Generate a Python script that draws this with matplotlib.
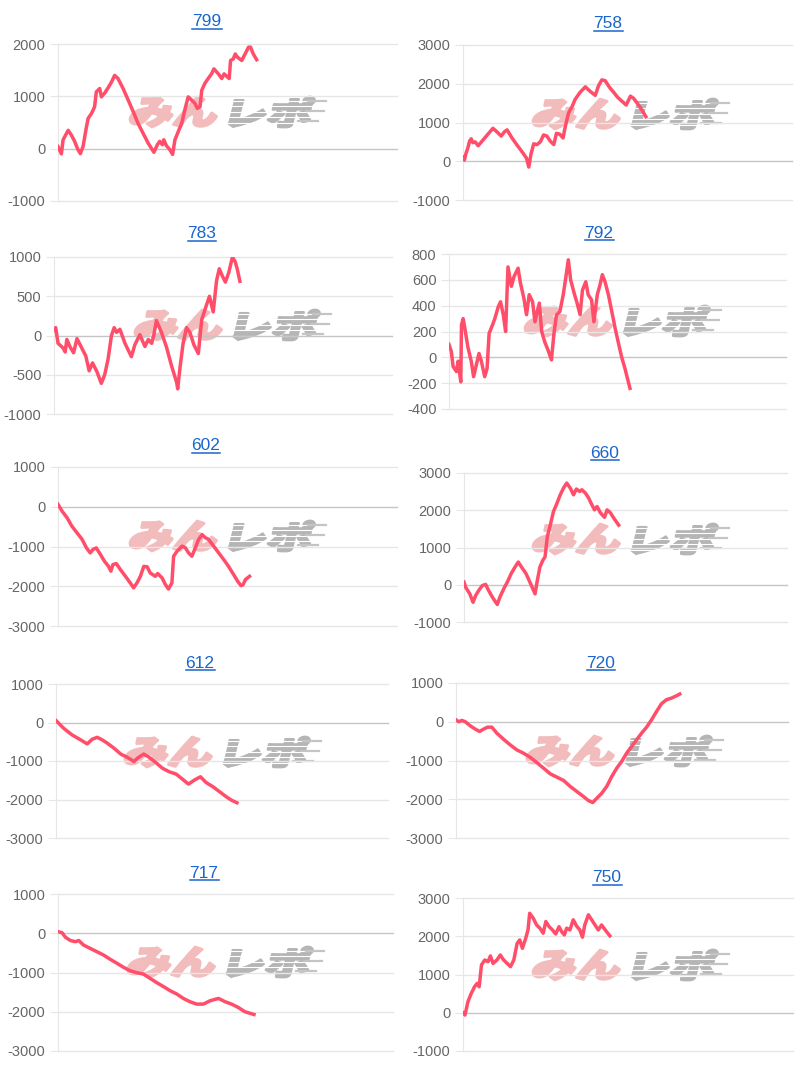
import matplotlib
matplotlib.use('Agg')
import matplotlib.pyplot as plt
from matplotlib.textpath import TextPath
from matplotlib.patches import PathPatch
from matplotlib.font_manager import FontProperties
from matplotlib.transforms import Affine2D
from matplotlib.lines import Line2D

plt.rcParams['font.family'] = ['Liberation Sans', 'DejaVu Sans']

# machine numbers (chart titles)
titles = ['799', '758', '783', '792', '602', '660', '612', '720', '717', '750']

# x = position along the game axis (% of axis), y = medal difference
x_799 = [0, 1.0, 1.5, 3.0, 3.9, 4.9, 5.9, 6.6, 7.4, 8.4, 8.9, 9.9, 10.8, 11.3, 12.3, 12.8,
         13.8, 14.8, 15.8, 16.7, 17.7, 19.2, 20.7, 22.2, 23.6, 25.1, 26.6, 28.3, 29.3, 30.0,
         30.8, 31.2, 32.0, 33.0, 33.8, 34.5, 35.5, 36.5, 37.4, 38.4, 39.4, 40.4, 41.1, 41.9,
         42.4, 43.3, 44.3, 45.3, 46.0, 47.3, 48.3, 49.0, 49.8, 50.5, 50.9, 51.7, 52.3, 52.9,
         54.2, 55.2, 56.2, 56.8, 57.6, 58.6]
y_799 = [40, -100, 170, 350, 265, 140, -20, -95, 45, 420, 580, 675, 800, 1085, 1150, 990,
         1065, 1165, 1275, 1400, 1340, 1150, 930, 705, 485, 295, 105, -70, 75, 140,
         75, 170, 55, -20, -110, 170, 330, 485, 740, 990, 930, 865, 770, 800,
         1115, 1245, 1340, 1430, 1525, 1430, 1340, 1430, 1380, 1340, 1685, 1715, 1810, 1750,
         1685, 1810, 1940, 1940, 1810, 1700]

x_758 = [0, 0.4, 0.9, 1.5, 2.0, 2.5, 3.0, 3.7, 4.6, 5.8, 6.8, 7.8, 9.1, 10.3, 11.6, 12.6,
         13.4, 14.9, 16.4, 17.9, 19.3, 20.0, 20.7, 21.5, 22.5, 23.5, 24.5, 25.5, 26.5, 27.6,
         28.4, 29.4, 30.4, 31.1, 32.1, 33.1, 34.1, 35.6, 37.2, 38.7, 40.2, 41.2, 42.2, 43.2,
         44.6, 45.8, 47.0, 48.3, 49.6, 50.9, 51.9, 53.1, 54.4, 55.6]
y_758 = [100, 30, 200, 350, 520, 580, 480, 500, 400, 520, 620, 720, 850, 760, 650, 760,
         810, 600, 420, 250, 80, -150, 200, 450, 430, 500, 680, 650, 520, 430,
         720, 700, 600, 900, 1250, 1400, 1600, 1780, 1920, 1800, 1700, 1950, 2100, 2080,
         1900, 1780, 1650, 1550, 1450, 1680, 1620, 1480, 1320, 1150]

x_783 = [0, 0.5, 1.2, 2.7, 3.3, 3.8, 4.8, 5.8, 6.8, 8.1, 9.4, 10.4, 11.4, 12.7, 14.0, 15.0,
         16.0, 17.0, 17.8, 18.5, 19.5, 21.0, 22.9, 23.9, 25.4, 26.9, 27.9, 28.9, 29.5, 30.3,
         31.8, 33.3, 34.8, 36.3, 36.6, 37.3, 38.2, 39.2, 40.2, 41.4, 42.7, 43.7, 45.2, 46.0,
         47.1, 48.1, 48.9, 49.9, 50.7, 51.7, 52.8, 53.6, 54.2, 55.0]
y_783 = [70, 100, -100, -160, -210, -50, -150, -220, -40, -150, -260, -450, -350, -460, -610, -500,
         -300, 0, 100, 40, 80, -100, -270, -120, 10, -140, -50, -100, 0, 190,
         40, -150, -390, -600, -680, -400, -100, 100, 40, -120, -230, 200, 400, 500,
         300, 700, 850, 750, 680, 800, 1000, 940, 850, 690]

x_792 = [0, 0.7, 1.2, 2.2, 2.7, 3.5, 3.7, 4.2, 4.7, 5.6, 6.6, 7.3, 8.1, 8.9, 9.6, 10.6,
         11.3, 11.9, 12.9, 13.6, 14.6, 15.3, 16.1, 16.8, 17.5, 18.5, 19.3, 20.5, 21.2, 22.2,
         23.0, 23.8, 24.8, 25.5, 26.8, 27.5, 28.4, 29.4, 30.4, 31.1, 31.9, 32.9, 33.9, 34.7,
         35.4, 36.1, 37.1, 37.9, 38.9, 39.6, 40.6, 41.3, 42.3, 43.0, 44.0, 44.8, 45.5, 46.3,
         47.3, 48.3, 49.3, 50.2, 51.2, 52.2, 53.7]
y_792 = [100, 45, -70, -110, -30, -190, 250, 300, 225, 80, -30, -150, -60, 30, -30, -150,
         -85, 185, 250, 300, 390, 430, 330, 200, 700, 550, 625, 690, 575, 460,
         330, 485, 430, 275, 420, 200, 120, 55, -20, 175, 330, 355, 485, 625,
         755, 600, 500, 430, 330, 520, 585, 485, 445, 275, 485, 560, 640, 585,
         485, 355, 225, 120, 5, -85, -240]

x_602 = [0, 1.2, 2.7, 4.1, 5.6, 7.1, 8.4, 9.5, 10.3, 11.3, 12.5, 13.7, 14.9, 15.6, 16.2, 17.2,
         18.4, 19.9, 21.3, 22.3, 23.3, 24.3, 25.3, 26.3, 27.2, 28.7, 29.4, 30.7, 31.7, 32.6,
         33.6, 34.1, 35.1, 36.6, 37.6, 38.5, 39.5, 40.5, 41.5, 42.5, 43.5, 44.4, 45.9, 47.4,
         48.9, 50.3, 51.8, 53.0, 54.0, 54.6, 55.3, 56.5]
y_602 = [60, -110, -280, -490, -655, -820, -1035, -1160, -1075, -1035, -1200, -1370, -1500, -1620, -1455, -1430,
         -1580, -1750, -1915, -2040, -1915, -1750, -1500, -1510, -1665, -1750, -1680, -1790, -1960, -2070,
         -1915, -1245, -1120, -990, -1035, -1160, -1245, -1035, -820, -700, -780, -820, -990, -1160,
         -1330, -1500, -1705, -1875, -1985, -1960, -1830, -1750]

x_660 = [0, 0.5, 1.8, 2.8, 3.6, 4.7, 5.7, 6.7, 7.5, 8.8, 10.3, 11.1, 12.3, 13.4, 14.7, 15.8,
         16.8, 17.8, 19.2, 20.4, 22.0, 22.7, 23.5, 24.4, 25.1, 25.8, 26.7, 27.7, 28.7, 29.8,
         30.8, 31.8, 32.9, 33.9, 34.8, 35.8, 36.5, 37.6, 38.6, 39.6, 40.4, 41.2, 42.2, 43.5,
         44.3, 45.3, 46.4, 47.9]
y_660 = [70, -65, -245, -470, -290, -135, -20, 10, -135, -335, -530, -335, -110, 70, 315, 475,
         610, 475, 300, 70, -245, 115, 475, 655, 750, 1290, 1600, 1965, 2170, 2415,
         2595, 2730, 2595, 2415, 2570, 2505, 2550, 2460, 2325, 2145, 2010, 2100, 1935, 1810,
         2010, 1935, 1785, 1600]

x_612 = [0, 2.3, 4.8, 7.4, 9.4, 10.9, 12.4, 13.9, 15.5, 17.5, 19.5, 21.5, 23.5, 24.5, 26.4, 28.1,
         30.1, 32.1, 34.1, 36.2, 38.2, 39.9, 41.7, 43.5, 45.3, 47.3, 49.3, 51.3, 52.8, 54.5]
y_612 = [50, -150, -320, -450, -555, -435, -385, -450, -540, -670, -820, -905, -1015, -930, -820, -905,
         -1045, -1190, -1280, -1340, -1480, -1600, -1495, -1410, -1565, -1670, -1800, -1930, -2015, -2085]

x_720 = [0, 0.8, 1.8, 2.8, 4.3, 5.8, 7.1, 8.3, 9.5, 10.8, 12.3, 14.3, 16.3, 18.3, 20.3, 22.3,
         24.3, 26.4, 28.4, 30.4, 32.4, 34.4, 36.4, 38.4, 39.9, 41.2, 42.4, 43.9, 45.4, 46.9,
         48.4, 49.9, 51.4, 52.9, 54.4, 55.9, 57.4, 58.9, 60.4, 61.9, 63.4, 64.9, 66.4, 67.4]
y_720 = [50, 0, 35, 0, -105, -190, -250, -190, -140, -140, -295, -450, -595, -725, -810, -915,
         -1050, -1200, -1345, -1430, -1515, -1670, -1800, -1930, -2035, -2085, -1975, -1845, -1670, -1415,
         -1200, -1025, -810, -640, -465, -295, -140, 50, 265, 465, 570, 610, 670, 715]

x_717 = [0, 1.2, 2.2, 3.7, 5.2, 6.2, 7.6, 9.6, 11.6, 13.6, 15.6, 17.6, 19.6, 21.5, 23.5, 25.5,
         27.5, 29.5, 31.5, 33.5, 35.5, 37.4, 39.4, 41.4, 43.4, 45.4, 47.9, 49.9, 51.8, 53.8,
         55.8, 58.5]
y_717 = [40, 15, -100, -185, -215, -185, -300, -385, -470, -555, -665, -765, -870, -955, -1005, -1040,
         -1150, -1260, -1360, -1465, -1550, -1660, -1745, -1805, -1805, -1720, -1660, -1745, -1805, -1890,
         -2000, -2070]

x_750 = [0, 0.6, 1.5, 2.5, 3.5, 4.3, 4.9, 5.6, 6.6, 7.6, 8.3, 9.1, 10.3, 11.3, 12.3, 13.4,
         14.4, 15.4, 16.4, 17.2, 18.0, 19.0, 19.7, 20.2, 21.3, 22.3, 23.3, 24.3, 25.1, 26.1,
         27.1, 28.1, 29.1, 29.9, 30.7, 31.4, 32.4, 33.4, 34.4, 35.4, 36.2, 36.9, 38.0, 39.0,
         40.0, 41.0, 42.0, 42.7, 43.5, 44.5]
y_750 = [0, -60, 290, 505, 680, 770, 680, 1250, 1380, 1335, 1485, 1290, 1380, 1510, 1380, 1290,
         1205, 1380, 1815, 1905, 1685, 1945, 2165, 2600, 2470, 2295, 2210, 2080, 2385, 2250,
         2165, 2060, 2250, 2120, 2035, 2210, 2165, 2430, 2270, 2165, 1975, 2295, 2560, 2430,
         2295, 2165, 2295, 2210, 2120, 2010]

series = [(x_799, y_799), (x_758, y_758), (x_783, y_783), (x_792, y_792), (x_602, y_602),
          (x_660, y_660), (x_612, y_612), (x_720, y_720), (x_717, y_717), (x_750, y_750)]

# y axis (min, max, step) per chart
y_scales = [(-1000, 2000, 1000), (-1000, 3000, 1000), (-1000, 1000, 500), (-400, 800, 200),
            (-3000, 1000, 1000), (-1000, 3000, 1000), (-3000, 1000, 1000), (-3000, 1000, 1000),
            (-3000, 1000, 1000), (-1000, 3000, 1000)]

W, H = 800, 1068
# plot boxes in pixels: left, right, top, bottom
boxes = [(58, 397, 44, 201), (463, 792, 45, 200),
         (54, 392, 257, 414), (449, 786, 254, 409),
         (58, 397, 467, 626), (464, 787, 473, 622),
         (56, 388, 684, 838), (456, 788, 683, 838),
         (58, 393, 894, 1051), (463, 793, 898, 1051)]
title_pos = [(207, 22), (608, 24), (202, 234), (599, 233), (206, 446),
             (605, 453), (200, 663), (601, 663), (204, 873), (607, 878)]
logo_pos = [(130, 95), (533, 97), (135, 308), (525, 304), (130, 519),
            (533, 522), (125, 735), (527, 734), (128, 945), (533, 948)]

LINE = '#ff4d6a'
GRID = '#e6e6e6'
ZERO = '#c6c6c6'
TITLE = '#1a66cc'

fig = plt.figure(figsize=(W / 100, H / 100), dpi=100)

# watermark layer (behind charts), pixel coordinates
bg = fig.add_axes([0, 0, 1, 1], zorder=0)
bg.set_xlim(0, W)
bg.set_ylim(0, H)
bg.axis('off')
fp = FontProperties(family='Noto Sans CJK JP', weight='black')


def put_word(text, x0, y_top, w, h, color):
    tp = TextPath((0, 0), text, size=40, prop=fp)
    ext = tp.get_extents()
    tr = (Affine2D().translate(-ext.x0, -ext.y0)
          .scale(w / ext.width, h / ext.height)
          .skew_deg(14, 0)
          .translate(x0 - 4, H - y_top - h))
    bg.add_patch(PathPatch(tr.transform_path(tp), facecolor=color, edgecolor=color,
                           lw=2.0, joinstyle='round', zorder=1))


for lx, ly in logo_pos:
    put_word('みん', lx + 2, ly + 2, 86, 30, '#f3bcbc')
    put_word('レポ', lx + 102, ly + 2, 80, 30, '#b5b5b5')
    # speed stripes through the grey part
    for k in range(1, 6):
        yy = H - ly - k * 5.5
        bg.plot([lx + 96, lx + 198], [yy, yy], color='white', lw=0.8, zorder=2)
    for k, (a, b) in enumerate([(178, 196), (176, 194), (168, 188)]):
        yy = H - ly - 6 - k * 10
        bg.plot([lx + a, lx + b], [yy, yy], color='#c4c4c4', lw=1.6, zorder=2)

for i in range(10):
    l, r, t, b = boxes[i]
    ax = fig.add_axes([l / W, 1 - b / H, (r - l) / W, (b - t) / H], zorder=1)
    ax.set_facecolor('none')
    xs, ys = series[i]
    ymin, ymax, step = y_scales[i]
    ticks = list(range(ymin, ymax + 1, step))
    ax.set_xlim(0, 100)
    ax.set_ylim(ymin, ymax)
    ax.set_yticks(ticks)
    ax.set_yticklabels([str(v) for v in ticks])
    ax.set_xticks([])
    for v in ticks:
        ax.axhline(v, color=ZERO if v == 0 else GRID, lw=1, zorder=1, clip_on=False)
    for s in ['top', 'right', 'bottom']:
        ax.spines[s].set_visible(False)
    ax.spines['left'].set_color(GRID)
    ax.tick_params(axis='y', length=6, color=GRID, labelcolor='#666666', labelsize=10.5, pad=3)
    ax.plot(xs, ys, color=LINE, lw=2.5, solid_joinstyle='round', zorder=3)

    tx, ty = title_pos[i]
    fig.text(tx / W, 1 - ty / H, titles[i], ha='center', va='center',
             color=TITLE, fontsize=12.5)

fig.canvas.draw()
renderer = fig.canvas.get_renderer()
for txt in fig.texts[:]:
    bb = txt.get_window_extent(renderer)
    yline = (bb.y0 + 1) / H
    fig.add_artist(Line2D([bb.x0 / W, bb.x1 / W], [yline, yline],
                          transform=fig.transFigure, color=TITLE, lw=1.1))

fig.savefig('out.png', dpi=100)
